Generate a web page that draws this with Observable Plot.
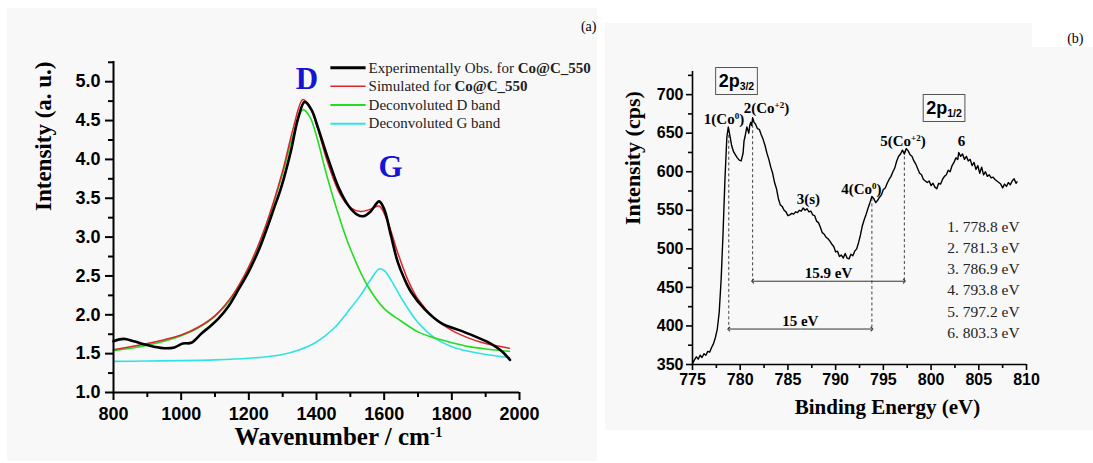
<!DOCTYPE html>
<html>
<head>
<meta charset="utf-8">
<script src="https://cdn.jsdelivr.net/npm/d3@7"></script>
<script src="https://cdn.jsdelivr.net/npm/@observablehq/plot@0.6"></script>
<style>
  body { margin: 0; background: #fff; width: 1093px; height: 463px; position: relative; overflow: hidden; }
  .bg { position: absolute; background: #f8f8f8; }
  .panel { position: absolute; top: 0; }
</style>
</head>
<body>
<div class="bg" style="left:7px;top:8px;width:590px;height:453px"></div>
<div class="bg" style="left:605px;top:23px;width:488px;height:407px"></div>
<div style="position:absolute;left:1032px;top:0;width:61px;height:47px;background:#fff"></div>
<div id="panelA" class="panel" style="left:0"></div>
<div id="panelB" class="panel" style="left:600px"></div>
<script>
// ---------- (a) Raman spectrum of Co@C_550 ----------
// [wavenumber (cm-1), intensity (a. u.)]
const observed = [[800,1.66],[830,1.69],[860,1.66],[890,1.62],[920,1.59],[950,1.57],[980,1.58],[1005,1.63],[1030,1.64],[1060,1.76],[1085,1.85],[1110,1.95],[1140,2.11],[1170,2.33],[1200,2.56],[1230,2.84],[1255,3.13],[1275,3.38],[1295,3.63],[1325,4.12],[1345,4.52],[1365,4.74],[1385,4.64],[1405,4.40],[1435,4.00],[1465,3.64],[1495,3.40],[1520,3.29],[1540,3.27],[1560,3.33],[1585,3.46],[1600,3.36],[1620,3.02],[1640,2.68],[1660,2.46],[1680,2.29],[1720,2.07],[1770,1.89],[1830,1.79],[1875,1.71],[1915,1.63],[1945,1.54],[1972,1.42]];
const simulated = [[800,1.55],[850,1.59],[900,1.63],[950,1.68],[1000,1.74],[1050,1.84],[1100,1.99],[1150,2.24],[1200,2.62],[1250,3.15],[1300,3.85],[1330,4.38],[1360,4.77],[1380,4.68],[1400,4.45],[1430,4.00],[1470,3.55],[1500,3.38],[1530,3.33],[1560,3.36],[1585,3.40],[1610,3.20],[1640,2.80],[1670,2.45],[1700,2.20],[1750,1.95],[1800,1.80],[1850,1.70],[1900,1.63],[1970,1.57]];
const dBand = [[800,1.54],[850,1.57],[900,1.61],[950,1.66],[1000,1.73],[1050,1.83],[1100,1.98],[1150,2.22],[1200,2.60],[1250,3.13],[1300,3.82],[1330,4.30],[1360,4.64],[1380,4.55],[1400,4.30],[1430,3.80],[1470,3.22],[1500,2.85],[1550,2.38],[1600,2.08],[1650,1.92],[1700,1.78],[1750,1.70],[1800,1.64],[1850,1.59],[1900,1.56],[1970,1.53]];
const gBand = [[800,1.40],[900,1.405],[1000,1.41],[1100,1.42],[1200,1.44],[1250,1.46],[1300,1.49],[1350,1.55],[1400,1.65],[1450,1.82],[1500,2.08],[1530,2.25],[1560,2.45],[1585,2.59],[1600,2.57],[1620,2.45],[1650,2.22],[1700,1.90],[1750,1.70],[1800,1.59],[1850,1.53],[1900,1.49],[1970,1.45]];

const legendLabels = ["Experimentally Obs. for **Co@C_550**", "Simulated for **Co@C_550**", "Deconvoluted D band", "Deconvoluted G band"];
const legendColors = ["#000000", "#d9262c", "#22dd22", "#2fe3e3"];
const legendWidths = [3, 1.5, 2, 2];
const bandLabels = [{text: "D", x: 1372, y: 5.04}, {text: "G", x: 1619, y: 3.90}];

const xTicksA = [800, 1000, 1200, 1400, 1600, 1800, 2000];
const xMinorA = [900, 1100, 1300, 1500, 1700, 1900];
const yTicksA = [1.0, 1.5, 2.0, 2.5, 3.0, 3.5, 4.0, 4.5, 5.0];
const yMinorA = [1.25, 1.75, 2.25, 2.75, 3.25, 3.75, 4.25, 4.75, 5.25];

// ---------- (b) Co 2p XPS spectrum ----------
// [binding energy (eV), counts per second]
const xps = [[775.0,351],[775.2,356],[775.4,360],[775.6,357],[775.8,362],[776.0,359],[776.2,364],[776.4,362],[776.6,367],[776.8,366],[777.0,372],[777.2,377],[777.4,385],[777.6,396],[777.8,418],[778.0,460],[778.2,520],[778.4,590],[778.6,645],[778.75,658],[778.9,648],[779.1,634],[779.3,626],[779.5,622],[779.7,618],[779.9,615],[780.1,614],[780.3,624],[780.4,640],[780.5,645],[780.6,652],[780.7,658],[780.8,654],[780.9,650],[781.0,660],[781.1,664],[781.2,660],[781.3,670],[781.45,664],[781.6,662],[781.8,656],[782.0,655],[782.2,648],[782.4,642],[782.6,634],[782.8,624],[783.0,616],[783.2,606],[783.4,598],[783.6,586],[783.8,578],[784.0,565],[784.2,557],[784.4,555],[784.6,550],[784.8,548],[785.0,543],[785.2,544],[785.4,546],[785.6,545],[785.8,548],[786.0,547],[786.2,550],[786.4,549],[786.6,553],[786.8,550],[787.0,552],[787.2,548],[787.4,549],[787.6,544],[787.8,543],[788.0,536],[788.2,534],[788.4,528],[788.6,521],[788.8,519],[789.0,515],[789.2,513],[789.4,510],[789.6,506],[789.8,503],[790.0,496],[790.2,497],[790.4,490],[790.6,492],[790.8,488],[791.0,494],[791.2,488],[791.4,487],[791.6,493],[791.8,491],[792.0,497],[792.2,500],[792.4,508],[792.6,518],[792.8,530],[793.0,538],[793.2,545],[793.4,553],[793.6,560],[793.8,568],[794.0,565],[794.2,560],[794.4,563],[794.6,567],[794.8,570],[795.0,577],[795.2,579],[795.4,585],[795.6,590],[795.8,594],[796.0,600],[796.2,605],[796.4,614],[796.6,620],[796.8,623],[797.0,628],[797.2,623],[797.4,630],[797.6,627],[797.8,622],[798.0,620],[798.2,614],[798.4,610],[798.6,604],[798.8,598],[799.0,596],[799.2,590],[799.4,588],[799.6,586],[799.8,588],[800.0,582],[800.2,585],[800.4,580],[800.6,578],[800.8,585],[801.0,584],[801.2,590],[801.4,594],[801.6,596],[801.8,602],[802.0,600],[802.2,608],[802.4,612],[802.6,618],[802.8,616],[802.9,625],[803.1,620],[803.3,623],[803.5,616],[803.7,620],[803.9,614],[804.1,616],[804.3,608],[804.5,612],[804.7,603],[804.9,608],[805.1,598],[805.3,606],[805.5,596],[805.7,600],[805.9,594],[806.1,596],[806.3,592],[806.5,593],[806.7,590],[806.9,588],[807.1,586],[807.3,584],[807.5,579],[807.7,584],[807.9,581],[808.1,586],[808.3,583],[808.5,588],[808.7,591],[808.9,585],[809.0,587]];

const peakLabels = [
  {text: "1(Co^{0})", x: 778.3, y: 668},
  {text: "2(Co^{+2})", x: 782.75, y: 683},
  {text: "3(s)", x: 787.15, y: 565},
  {text: "4(Co^{0})", x: 792.7, y: 578},
  {text: "5(Co^{+2})", x: 797.05, y: 640},
  {text: "6", x: 803.2, y: 640}
];
const orbitLabels = [{text: "2p_{3/2}", x: 779.6, y: 718}, {text: "2p_{1/2}", x: 801.35, y: 683}];
const dropLines = [
  {e: 778.8, top: 655, bottom: 396},
  {e: 781.3, top: 668, bottom: 458},
  {e: 793.8, top: 566, bottom: 396},
  {e: 797.2, top: 627, bottom: 458}
];
const splittings = [
  {from: 778.8, to: 793.8, level: 396, label: "15 eV"},
  {from: 781.3, to: 797.2, level: 458, label: "15.9 eV"}
];
const peakList = ["1. 778.8 eV", "2. 781.3 eV", "3. 786.9 eV", "4. 793.8 eV", "5. 797.2 eV", "6. 803.3 eV"];

const xTicksB = [775, 780, 785, 790, 795, 800, 805, 810];
const xMinorB = [777.5, 782.5, 787.5, 792.5, 797.5, 802.5, 807.5];
const yTicksB = [350, 400, 450, 500, 550, 600, 650, 700];
const yMinorB = [375, 425, 475, 525, 575, 625, 675, 725];

// ---------- shared styling ----------
const serif = "'Liberation Serif','Times New Roman',serif";
const sans = "'Liberation Sans',Arial,sans-serif";
const X = d => d[0], Y = d => d[1];
const SVGNS = "http://www.w3.org/2000/svg";

// Turns ^{..}, _{..} and **..** inside text labels into tspans.
function richText(svg) {
  d3.select(svg).selectAll("text").each(function () {
    if (this.querySelector("tspan")) return;
    const s = this.textContent;
    if (!/\^\{|_\{|\*\*/.test(s)) return;
    this.textContent = "";
    for (const p of s.split(/(\^\{[^}]*\}|_\{[^}]*\}|\*\*[^*]*\*\*)/).filter(Boolean)) {
      const t = document.createElementNS(SVGNS, "tspan");
      if (p.startsWith("^{")) {
        t.textContent = p.slice(2, -1);
        t.setAttribute("baseline-shift", "super");
        t.setAttribute("font-size", "60%");
      } else if (p.startsWith("_{")) {
        t.textContent = p.slice(2, -1);
        t.setAttribute("baseline-shift", "-30%");
        t.setAttribute("font-size", "58%");
      } else if (p.startsWith("**")) {
        t.textContent = p.slice(2, -2);
        t.setAttribute("font-weight", "bold");
      } else {
        t.textContent = p;
      }
      this.appendChild(t);
    }
  });
}

// Draws a thin frame round the orbital labels.
function boxLabels(svg) {
  d3.select(svg).selectAll("text").each(function () {
    if (!this.textContent.startsWith("2p")) return;
    const b = this.getBBox();
    const r = document.createElementNS(SVGNS, "rect");
    r.setAttribute("x", b.x - 3);
    r.setAttribute("y", b.y - 3);
    r.setAttribute("width", b.width + 6);
    r.setAttribute("height", b.height + 6);
    r.setAttribute("fill", "none");
    r.setAttribute("stroke", "#555");
    r.setAttribute("stroke-width", 1);
    if (this.getAttribute("transform")) r.setAttribute("transform", this.getAttribute("transform"));
    this.parentNode.insertBefore(r, this);
  });
}

// ---------- panel (a) ----------
const chartA = Plot.plot({
  width: 597,
  height: 463,
  marginLeft: 113,
  marginRight: 78,
  marginTop: 61,
  marginBottom: 71,
  style: {background: "transparent", color: "#000", fontFamily: sans, fontWeight: "bold", overflow: "visible"},
  x: {domain: [800, 2000]},
  y: {domain: [1.0, 5.26]},
  marks: [
    Plot.line(gBand, {x: X, y: Y, stroke: legendColors[3], strokeWidth: 1.6, curve: "catmull-rom"}),
    Plot.line(dBand, {x: X, y: Y, stroke: legendColors[2], strokeWidth: 1.6, curve: "catmull-rom"}),
    Plot.line(simulated, {x: X, y: Y, stroke: legendColors[1], strokeWidth: 1.5, curve: "catmull-rom"}),
    Plot.line(observed, {x: X, y: Y, stroke: legendColors[0], strokeWidth: 2.6, curve: "catmull-rom"}),

    Plot.text(bandLabels, {x: "x", y: "y", text: "text", fill: "#1414d2", fontSize: 31, fontFamily: serif, fontWeight: "bold"}),

    // legend
    Plot.link(legendLabels, {
      x1: 1441, x2: 1545,
      y1: (d, i) => 5.18 - i * 0.24, y2: (d, i) => 5.18 - i * 0.24,
      stroke: (d, i) => legendColors[i], strokeWidth: (d, i) => legendWidths[i]
    }),
    Plot.text(legendLabels, {
      x: 1554, y: (d, i) => 5.18 - i * 0.24, text: d => d,
      textAnchor: "start", fontFamily: serif, fontWeight: "normal", fontSize: 15, fill: "#222"
    }),

    // axes
    Plot.ruleY([1.0], {strokeWidth: 2}),
    Plot.ruleX([800], {strokeWidth: 2}),
    Plot.axisX({ticks: xMinorA, tickSize: 5, tickFormat: () => "", strokeWidth: 2, label: null}),
    Plot.axisX({ticks: xTicksA, tickSize: 8, tickPadding: 7, strokeWidth: 2, fontSize: 18, tickFormat: d => String(d), label: null}),
    Plot.axisY({ticks: yMinorA, tickSize: 5, tickFormat: () => "", strokeWidth: 2, label: null}),
    Plot.axisY({ticks: yTicksA, tickSize: 8, tickPadding: 5, strokeWidth: 2, fontSize: 18, tickFormat: d3.format(".1f"), label: null}),

    Plot.text(["Intensity (a. u.)"], {frameAnchor: "left", rotate: -90, dx: -70, dy: -16, fontSize: 23, fontFamily: serif}),
    Plot.text(["Wavenumber / cm^{-1}"], {frameAnchor: "bottom", dx: 22, dy: 52, fontSize: 25, fontFamily: serif}),
    Plot.text(["(a)"], {frameAnchor: "top-right", dx: 77, dy: -40, textAnchor: "end", fontSize: 14, fontFamily: serif, fontWeight: "normal"})
  ]
});
document.getElementById("panelA").append(chartA);
richText(chartA);

// ---------- panel (b) ----------
const chartB = Plot.plot({
  width: 493,
  height: 463,
  marginLeft: 92,
  marginRight: 67,
  marginTop: 71,
  marginBottom: 99,
  style: {background: "transparent", color: "#000", fontFamily: sans, fontWeight: "bold", overflow: "visible"},
  x: {domain: [775, 810]},
  y: {domain: [350, 730]},
  marks: [
    Plot.link(dropLines, {x1: "e", x2: "e", y1: "top", y2: "bottom", stroke: "#444", strokeWidth: 1, strokeDasharray: "3,2.5"}),
    Plot.link(splittings, {x1: d => (d.from + d.to) / 2, x2: "from", y1: "level", y2: "level", stroke: "#333", strokeWidth: 1, markerEnd: "arrow"}),
    Plot.link(splittings, {x1: d => (d.from + d.to) / 2, x2: "to", y1: "level", y2: "level", stroke: "#333", strokeWidth: 1, markerEnd: "arrow"}),
    Plot.text(splittings, {x: d => (d.from + d.to) / 2, y: "level", text: "label", lineAnchor: "bottom", dy: -3, fontFamily: serif, fontSize: 15}),

    Plot.line(xps, {x: X, y: Y, stroke: "#000", strokeWidth: 1.4}),

    Plot.text(peakLabels, {x: "x", y: "y", text: "text", fontFamily: serif, fontSize: 15}),
    Plot.text(orbitLabels, {x: "x", y: "y", text: "text", fontFamily: sans, fontSize: 18}),
    Plot.text([peakList.join("\n")], {x: 801.7, y: 462, text: d => d, textAnchor: "start", lineHeight: 1.36, fontFamily: serif, fontWeight: "normal", fontSize: 15.5, fill: "#222"}),

    // axes
    Plot.ruleY([350], {strokeWidth: 1.6}),
    Plot.ruleX([775], {strokeWidth: 1.6}),
    Plot.axisX({ticks: xMinorB, tickSize: 4, tickFormat: () => "", strokeWidth: 1.6, label: null}),
    Plot.axisX({ticks: xTicksB, tickSize: 6, tickPadding: 3, strokeWidth: 1.6, fontSize: 16, tickFormat: d => String(d), label: null}),
    Plot.axisY({ticks: yMinorB, tickSize: 4, tickFormat: () => "", strokeWidth: 1.6, label: null}),
    Plot.axisY({ticks: yTicksB, tickSize: 6, tickPadding: 3, strokeWidth: 1.6, fontSize: 16, tickFormat: d => String(d), label: null}),

    Plot.text(["Intensity (cps)"], {frameAnchor: "left", rotate: -90, dx: -60, dy: 7, fontSize: 22, fontFamily: serif}),
    Plot.text(["Binding Energy (eV)"], {frameAnchor: "bottom", dx: 28, dy: 49, fontSize: 21, fontFamily: serif}),
    Plot.text(["(b)"], {frameAnchor: "top-right", dx: 57, dy: -38, textAnchor: "end", fontSize: 14, fontFamily: serif, fontWeight: "normal"})
  ]
});
document.getElementById("panelB").append(chartB);
richText(chartB);
boxLabels(chartB);
</script>
</body>
</html>
